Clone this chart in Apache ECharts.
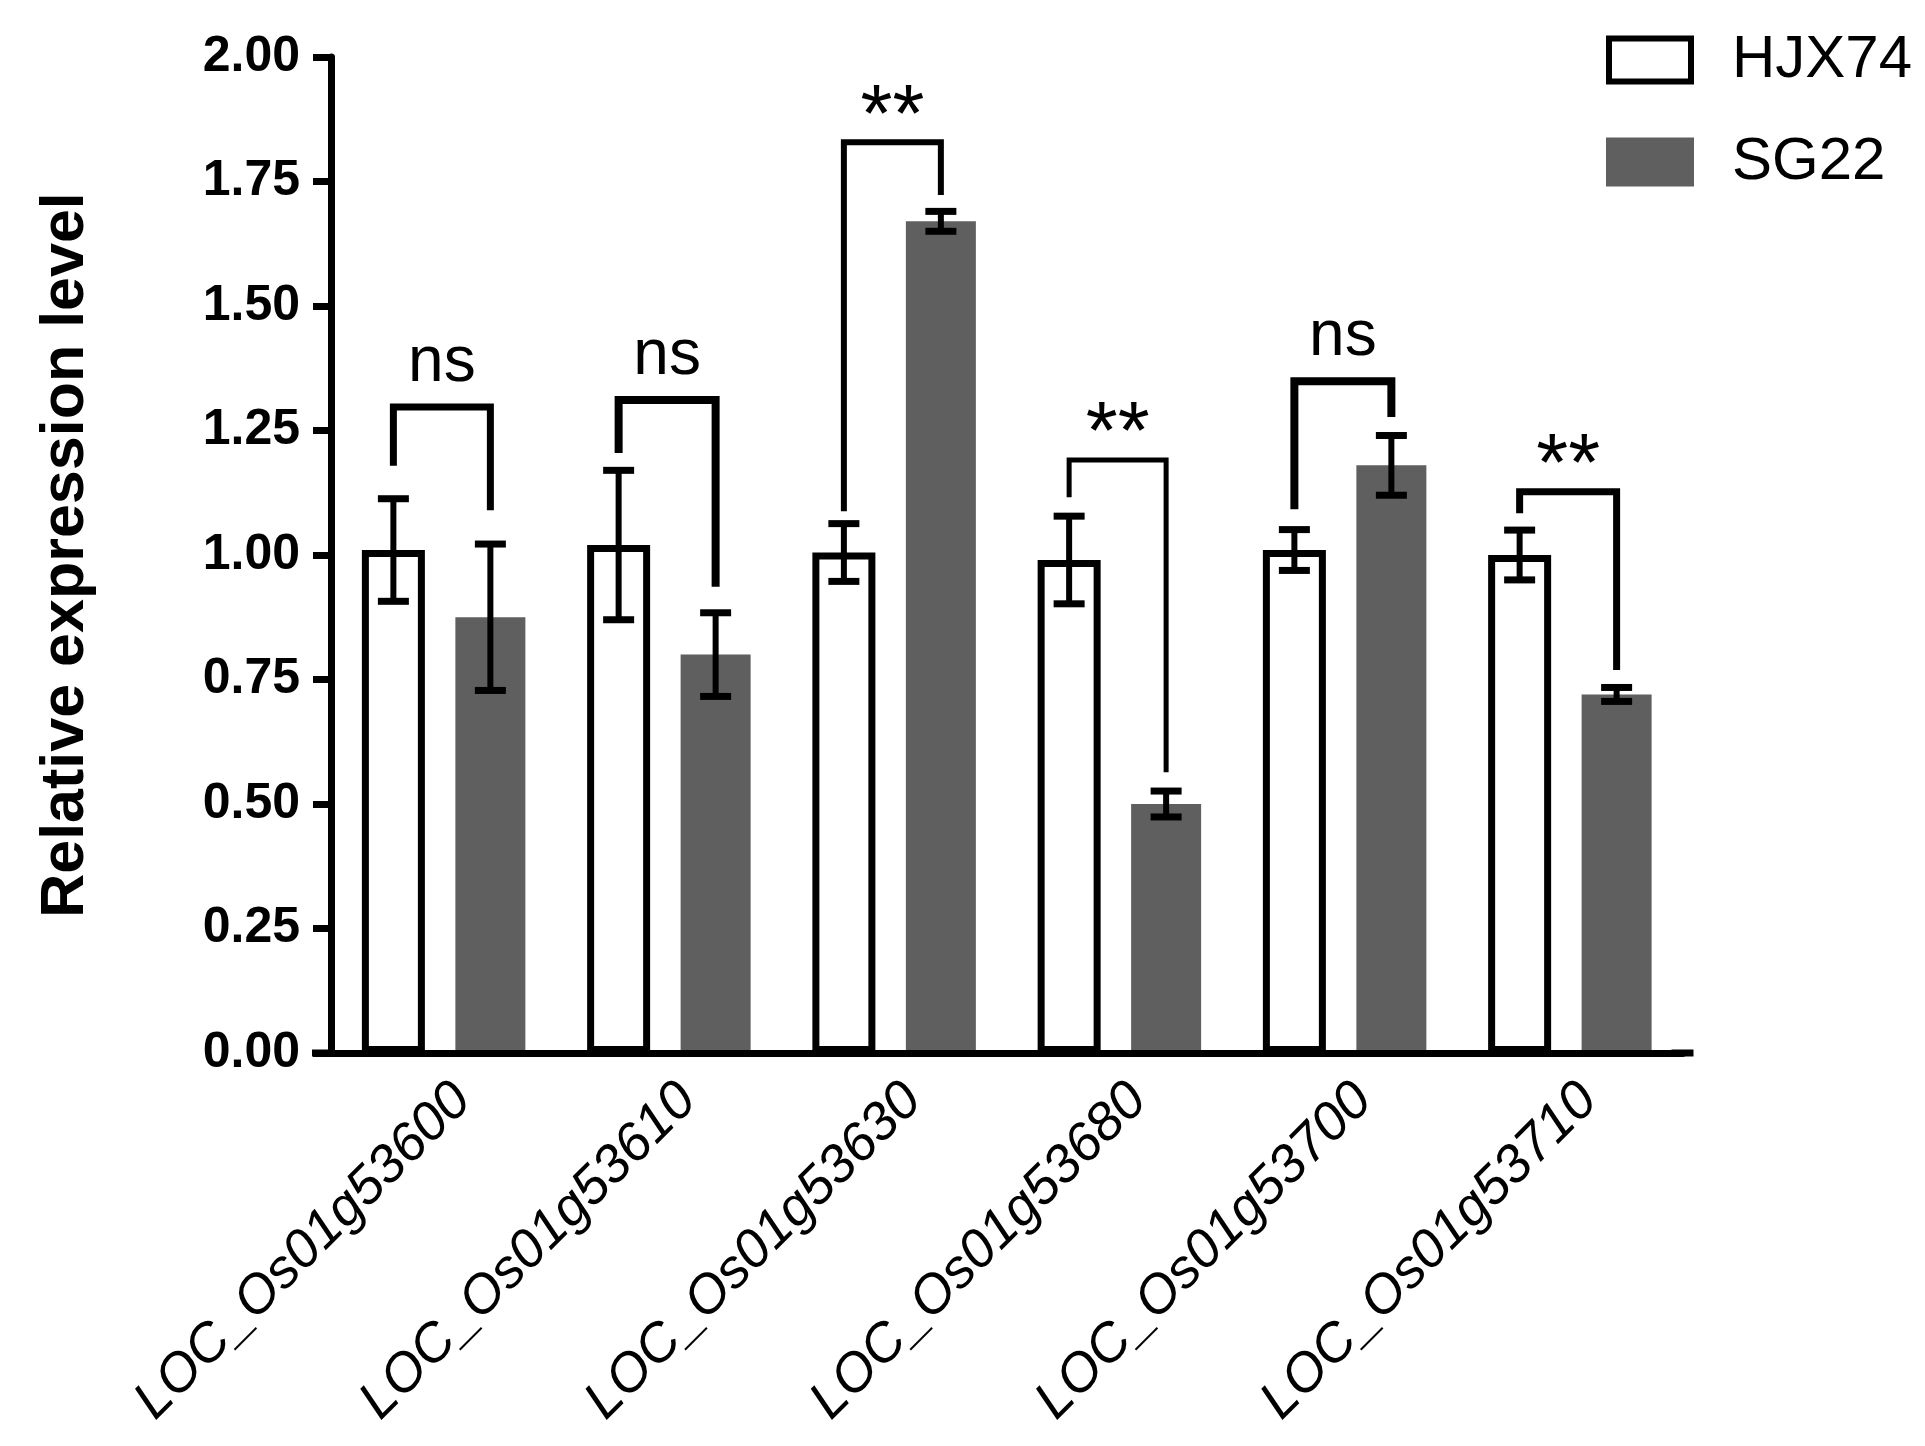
<!DOCTYPE html>
<html>
<head>
<meta charset="utf-8">
<script src="https://cdn.jsdelivr.net/npm/echarts@6/dist/echarts.min.js"></script>
<style>
html,body{margin:0;padding:0;background:#fff;}
#chart{width:1925px;height:1446px;}
</style>
</head>
<body>
<div id="chart"></div>
<script>
// ---- data ----
const categories = ['LOC_Os01g53600','LOC_Os01g53610','LOC_Os01g53630','LOC_Os01g53680','LOC_Os01g53700','LOC_Os01g53710'];
const seriesNames = ['HJX74','SG22'];
const hjx74Mean = [1.01, 1.02, 1.005, 0.99, 1.01, 1.00];
const hjx74Err  = [0.103, 0.150, 0.058, 0.088, 0.041, 0.050];
const sg22Mean  = [0.875, 0.80, 1.67, 0.50, 1.18, 0.72];
const sg22Err   = [0.147, 0.084, 0.020, 0.026, 0.060, 0.014];
// significance brackets: left leg bottom, right leg bottom, top (in axis units), label
const bracketLeft  = [1.179, 1.205, 1.088, 1.116, 1.092, 1.084];
const bracketRight = [1.090, 0.936, 1.723, 0.564, 1.277, 0.769];
const bracketTop   = [1.297, 1.311, 1.829, 1.191, 1.349, 1.127];
const bracketLabel = ['ns','ns','**','**','ns','**'];

// ---- style ----
const FONT = 'Liberation Sans';
const GRAY = '#5f5f5f';
const W_WHITE = 63, BORDER = 7, W_GRAY = 70, GAP = 0.484;
const bracketLineWidth = [7, 8, 6, 5, 8, 7];
// replicate ECharts bar offsets within a category band
const widthSum = W_WHITE * (1 + GAP) + W_GRAY;
const whiteOff = -widthSum / 2 + W_WHITE / 2;
const grayOff = -widthSum / 2 + W_WHITE * (1 + GAP) + W_GRAY / 2;

function errRender(offset) {
  return function (params, api) {
    const i = api.value(0), m = api.value(1), e = api.value(2);
    const top = api.coord([i, m + e]);
    const bot = api.coord([i, m - e]);
    const x = top[0] + offset;
    const cw = 15.5;
    const st = {stroke: '#000', lineWidth: 7};
    return {type: 'group', children: [
      {type: 'line', shape: {x1: x, y1: top[1], x2: x, y2: bot[1]}, style: {stroke: '#000', lineWidth: 6}},
      {type: 'line', shape: {x1: x - cw, y1: top[1], x2: x + cw, y2: top[1]}, style: st},
      {type: 'line', shape: {x1: x - cw, y1: bot[1], x2: x + cw, y2: bot[1]}, style: st}
    ]};
  };
}

function bracketRender(params, api) {
  const i = api.value(0);
  const l = api.coord([i, api.value(1)]);
  const r = api.coord([i, api.value(2)]);
  const t = api.coord([i, api.value(3)]);
  const xl = l[0] + whiteOff, xr = l[0] + grayOff;
  const label = bracketLabel[params.dataIndex];
  const isNs = label === 'ns';
  return {type: 'group', children: [
    {type: 'polyline', shape: {points: [[xl, l[1]], [xl, t[1]], [xr, t[1]], [xr, r[1]]]},
     style: {stroke: '#000', lineWidth: bracketLineWidth[params.dataIndex], fill: null, lineJoin: 'miter', lineCap: 'butt'}},
    {type: 'text', x: (xl + xr) / 2, y: t[1] - (isNs ? 44 : 24),
     style: {text: label, fill: '#000', fontSize: isNs ? 64 : 82, fontFamily: FONT,
             align: 'center', verticalAlign: 'middle'}}
  ]};
}

const chart = echarts.init(document.getElementById('chart'), null, {renderer: 'canvas'});
chart.setOption({
  animation: false,
  backgroundColor: '#fff',
  grid: {left: 331, top: 57, width: 1351.5, height: 996},
  legend: {
    orient: 'vertical', left: 1606, top: 30, padding: 0,
    itemWidth: 82, itemHeight: 43, itemGap: 42,
    textStyle: {fontSize: 60, color: '#000', fontFamily: FONT, padding: [0, 0, 0, 36]},
    data: [
      {name: seriesNames[0], icon: 'rect', itemStyle: {color: '#fff', borderColor: '#000', borderWidth: 6}},
      {name: seriesNames[1], icon: 'rect', itemStyle: {color: GRAY, borderColor: GRAY, borderWidth: 6}}
    ]
  },
  xAxis: {
    type: 'category', data: categories, z: 10,
    axisLine: {lineStyle: {color: '#000', width: 7},
               symbol: ['rect', 'rect'], symbolSize: [7, 22], symbolOffset: [-8, 0]},
    axisTick: {alignWithLabel: true, length: 20, lineStyle: {color: '#000', width: 6}},
    axisLabel: {rotate: 45, interval: 0, margin: 20, verticalAlign: 'top', fontSize: 54,
                fontStyle: 'italic', color: '#000', fontFamily: FONT}
  },
  yAxis: {
    type: 'value', min: 0, max: 2, interval: 0.25,
    axisLine: {show: true, lineStyle: {color: '#000', width: 7}},
    axisTick: {show: true, length: 18, lineStyle: {color: '#000', width: 7}},
    axisLabel: {formatter: v => v.toFixed(2), fontSize: 50, fontWeight: 'bold', color: '#000',
                margin: 31, fontFamily: FONT},
    splitLine: {show: false},
    name: 'Relative expression level', nameLocation: 'middle', nameRotate: 90, nameGap: 234,
    nameTextStyle: {fontSize: 61, fontWeight: 'bold', color: '#000', fontFamily: FONT}
  },
  series: [
    {name: seriesNames[0], type: 'bar', data: hjx74Mean, barWidth: W_WHITE, barGap: (GAP * 100) + '%',
     itemStyle: {color: '#fff', borderColor: '#000', borderWidth: BORDER}},
    {name: seriesNames[1], type: 'bar', data: sg22Mean, barWidth: W_GRAY, barGap: (GAP * 100) + '%',
     itemStyle: {color: GRAY}},
    {name: 'errH', type: 'custom', z: 5, renderItem: errRender(whiteOff),
     data: categories.map((c, i) => [i, hjx74Mean[i], hjx74Err[i]])},
    {name: 'errS', type: 'custom', z: 5, renderItem: errRender(grayOff),
     data: categories.map((c, i) => [i, sg22Mean[i], sg22Err[i]])},
    {name: 'brackets', type: 'custom', z: 5, renderItem: bracketRender,
     data: categories.map((c, i) => [i, bracketLeft[i], bracketRight[i], bracketTop[i]])}
  ]
});
</script>
</body>
</html>
